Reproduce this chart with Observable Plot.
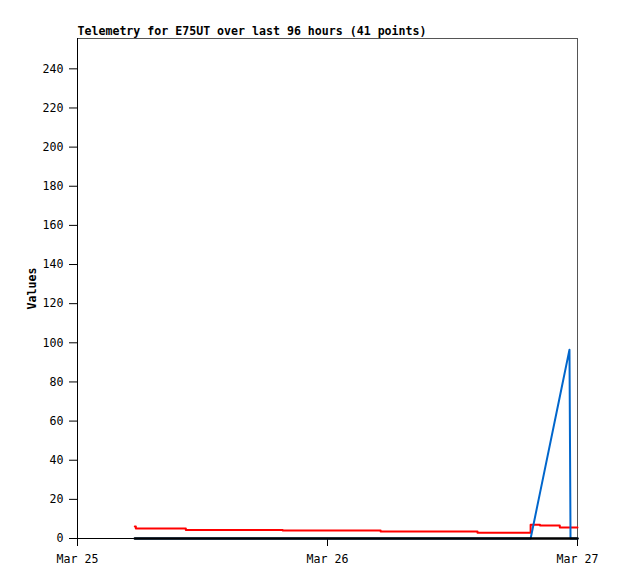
<!DOCTYPE html>
<html>
<head>
<meta charset="utf-8">
<script src="https://cdn.jsdelivr.net/npm/d3@7"></script>
<script src="https://cdn.jsdelivr.net/npm/@observablehq/plot@0.6"></script>
<style>
  html, body { margin: 0; padding: 0; background: #fff; }
  #chart svg { display: block; }
  #chart svg [aria-label="y-axis label"] text { font-weight: bold; }
</style>
</head>
<body>
<div id="chart"></div>
<script>
// Hours since Mar 25 00:00 for each of the 41 samples
const hours = [5.5, 5.6, 6.7, 7.8, 8.9, 10.0, 10.4, 11.5, 12.6, 13.7, 14.8, 15.9, 17.0, 18.1, 19.2, 19.7,
  20.8, 21.9, 23.0, 24.1, 25.2, 26.3, 27.4, 28.5, 29.1, 30.2, 31.3, 32.4, 33.5, 34.6, 35.7, 36.8, 38.4,
  43.0, 43.5, 44.4, 46.3, 47.23, 47.28, 47.33, 48.0];
const redValues = [6.1, 5.1, 5.1, 5.1, 5.1, 5.1, 4.4, 4.4, 4.4, 4.4, 4.4, 4.4, 4.4, 4.4, 4.4, 4.1,
  4.1, 4.1, 4.1, 4.1, 4.1, 4.1, 4.1, 4.1, 3.6, 3.6, 3.6, 3.6, 3.6, 3.6, 3.6, 3.6, 2.9,
  2.9, 7.0, 6.6, 5.6, 5.6, 5.6, 5.6, 5.6];
const blueValues = [0, 0, 0, 0, 0, 0, 0, 0, 0, 0, 0, 0, 0, 0, 0, 0,
  0, 0, 0, 0, 0, 0, 0, 0, 0, 0, 0, 0, 0, 0, 0, 0, 0,
  0, 0, 23.3, 72.4, 96.5, 48, 0, 0];
const blackValues = hours.map(() => 0);
const yTicks = [0, 20, 40, 60, 80, 100, 120, 140, 160, 180, 200, 220, 240];
const xTickDays = [25, 26, 27];
const titleText = "Telemetry for E75UT over last 96 hours (41 points)";

const base = Date.UTC(2024, 2, 25);
const toDate = h => new Date(base + h * 3600e3);
const rows = hours.map((h, i) => ({t: toDate(h), red: redValues[i], blue: blueValues[i], black: blackValues[i]}));
const xTicks = xTickDays.map(d => new Date(Date.UTC(2024, 2, d)));
const fmt = d3.utcFormat("%b %d");

const font = "'DejaVu Sans Mono', 'Liberation Mono', monospace";

const chart = Plot.plot({
  width: 618,
  height: 579,
  marginLeft: 77,
  marginRight: 41,
  marginTop: 38,
  marginBottom: 41,
  style: {fontFamily: font, fontSize: "11.6px", color: "#000", background: "#fff"},
  x: {type: "utc", domain: [xTicks[0], xTicks[2]]},
  y: {domain: [0, 255.5]},
  marks: [
    Plot.frame({stroke: "#555"}),
    Plot.axisY({ticks: yTicks, tickSize: 8, tickPadding: 6, label: "Values", labelAnchor: "center", labelArrow: "none", labelOffset: 50, fontSize: 11.6}),
    Plot.axisX({ticks: xTicks, tickFormat: fmt, tickSize: 8, tickPadding: 8, label: null, fontSize: 11.6}),
    Plot.ruleX([xTicks[0]], {stroke: "#000"}),
    Plot.ruleY([0], {stroke: "#000"}),
    Plot.line(rows, {x: "t", y: "red", stroke: "#ff0000", strokeWidth: 2, curve: "step-after"}),
    Plot.line(rows, {x: "t", y: "blue", stroke: "#0066cc", strokeWidth: 2}),
    Plot.line(rows, {x: "t", y: "black", stroke: "#000", strokeWidth: 2.5}),
    Plot.text([titleText], {frameAnchor: "top-left", text: d => d, dy: -4, lineAnchor: "bottom", textAnchor: "start", fontWeight: "bold", fontSize: 11.6})
  ]
});
document.getElementById("chart").appendChild(chart);
</script>
</body>
</html>
